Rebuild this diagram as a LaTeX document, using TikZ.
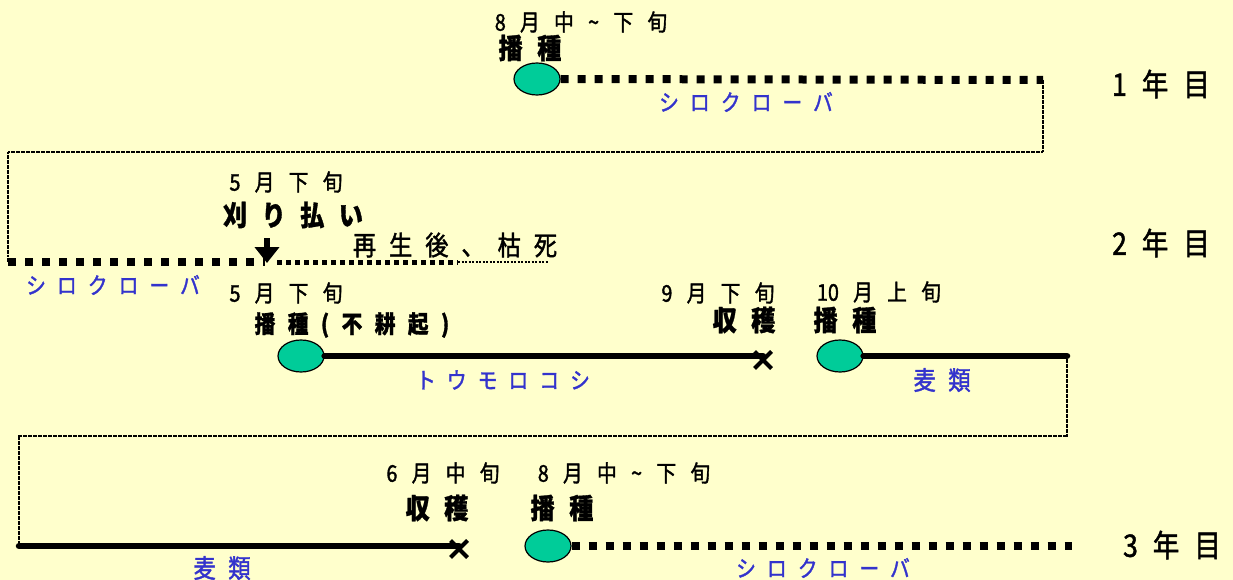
\documentclass[tikz,border=0pt]{standalone}
\usepackage{fontspec}
\newfontfamily\jp[FakeStretch=0.88,LetterSpace=50]{Noto Sans CJK JP}
\newfontfamily\jpb[FakeStretch=0.86,LetterSpace=52,FakeBold=1.2]{Noto Sans CJK JP}
\newfontfamily\jpm[FakeStretch=0.86,LetterSpace=48,FakeBold=1.5]{Noto Sans CJK JP}
\newfontfamily\jps[FakeStretch=0.86,LetterSpace=62,FakeBold=1.5]{Noto Sans CJK JP}
\newcommand{\tld}{\symbol{"007E}}
\usetikzlibrary{arrows.meta,shapes.geometric,shapes.misc}
\definecolor{bg}{HTML}{FFFFCC}
\definecolor{lbl}{HTML}{3333CC}
\definecolor{seed}{HTML}{00CC99}
\tikzset{
  small/.style={font=\jps\fontsize{23}{23}\selectfont, inner sep=0pt},
  act/.style={font=\jpb\bfseries\fontsize{28}{28}\selectfont, inner sep=0pt},
  actsm/.style={font=\jpb\bfseries\fontsize{24}{24}\selectfont, inner sep=0pt},
  crop/.style={font=\jpm\fontsize{23}{23}\selectfont, text=lbl, inner sep=0pt},
  cropbig/.style={font=\jpm\fontsize{26}{26}\selectfont, text=lbl, inner sep=0pt},
  note/.style={font=\jpm\fontsize{27}{27}\selectfont, inner sep=0pt},
  year/.style={font=\jpm\fontsize{31}{31}\selectfont, inner sep=0pt},
  sowing/.style={ellipse, draw=black, line width=1.2pt, fill=seed, minimum width=46pt, minimum height=32pt, inner sep=0pt},
  harvest/.style={cross out, draw=black, line width=4pt, minimum size=13pt, inner sep=0pt},
  growth/.style={line width=8pt, dash pattern=on 8pt off 9pt},
  growthsm/.style={line width=5pt, dash pattern=on 5pt off 4pt},
  solidgrowth/.style={line width=6.5pt, line cap=round},
  link/.style={line width=2pt, dash pattern=on 2pt off 0.5pt},
  fine/.style={line width=2pt, dash pattern=on 2pt off 1.5pt},
  cutarrow/.style={line width=6pt, -{Triangle[width=24pt,length=16pt]}},
}
\begin{document}
\begin{tikzpicture}[x=1pt,y=-1pt]
\fill[bg] (0,0) rectangle (1233,580);
\useasboundingbox (0,0) rectangle (1233,580);

% ---------- year 1 ----------
\node[small] (d1) at (581,22) {8月中\tld 下旬};
\node[act] (a1) at (530,48) {播種};
\node[sowing] (s1) at (537,79) {};
\coordinate (e1) at (1043,80);
\node[crop] (l1) at (746,102) {シロクローバ};
\node[year] (y1) at (1161,84) {1年目};
\draw[growth] (s1.east) -- (e1);
\coordinate (c1) at (1043,152);
\coordinate (c2) at (8,152);
\coordinate (c3) at (8,262);
\draw[link] (e1) -- (c1) -- (c2) -- (c3);

% ---------- year 2 ----------
\node[small] (d2) at (286,182) {5月下旬};
\node[act] (a2) at (293,215) {刈り払い};
\coordinate (cuttop) at (267,238);
\coordinate (cut) at (267,263);
\coordinate (cutend) at (265,262);
\coordinate (rg1) at (277,262);
\coordinate (rg2) at (458,262);
\coordinate (rg3) at (548,262);
\draw[growth] (c3) -- (cutend);
\draw[growthsm] (rg1) -- (rg2);
\draw[fine] (rg2) -- (rg3);
\draw[cutarrow] (cuttop) -- (cut);
\node[note] (n2) at (455,245) {再生後、枯死};
\node[year] (y2) at (1161,243) {2年目};
\node[crop] (l2) at (113,285) {シロクローバ};

\node[small] (d3) at (286,293) {5月下旬};
\node[actsm] (a3) at (352,325) {播種(不耕起)};
\node[sowing] (s2) at (301,356) {};
\node[harvest] (h2) at (763,360) {};
\draw[solidgrowth] (s2.east) -- (s2.east -| h2.center);
\node[crop] (l3) at (503,380) {トウモロコシ};

\node[small] (d4) at (718,293) {9月下旬};
\node[act] (a4) at (744,320) {収穫};
\node[small] (d5) at (879,292) {{\addfontfeature{LetterSpace=12}1}0月上旬};
\node[act] (a5) at (845,320) {播種};
\node[sowing] (s3) at (840,356) {};
\coordinate (e3) at (1067,356);
\draw[solidgrowth] (s3.east) -- (e3);
\node[cropbig] (l4) at (942,380) {麦類};
\coordinate (c4) at (1067,436);
\coordinate (c5) at (19,436);
\coordinate (c6) at (19,546);
\draw[link] (e3) -- (c4) -- (c5) -- (c6);

% ---------- year 3 ----------
\node[harvest] (h3) at (459,549) {};
\draw[solidgrowth] (c6) -- (c6 -| h3.center);
\node[cropbig] (l5) at (222,568) {麦類};
\node[small] (d6) at (443,473) {6月中旬};
\node[act] (a6) at (437,508) {収穫};
\node[small] (d7) at (624,473) {8月中\tld 下旬};
\node[act] (a7) at (562,508) {播種};
\node[sowing] (s4) at (548,546) {};
\coordinate (e4) at (1072,546);
\draw[growth] (s4.east) -- (e4);
\node[crop] (l6) at (823,568) {シロクローバ};
\node[year] (y3) at (1172,545) {3年目};
\end{tikzpicture}
\end{document}
